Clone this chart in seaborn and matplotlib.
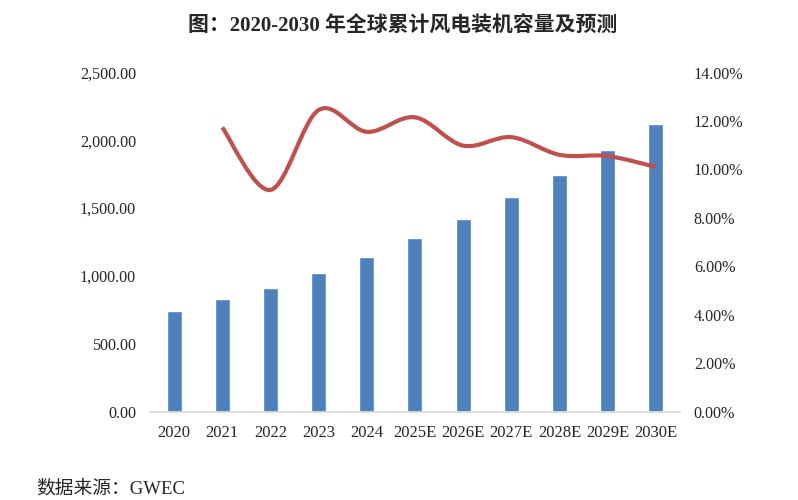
import numpy as np
import pandas as pd
import matplotlib
matplotlib.use("Agg")
import matplotlib.pyplot as plt
import seaborn as sns
from matplotlib.path import Path
from matplotlib.patches import PathPatch
from matplotlib.ticker import FuncFormatter, MultipleLocator


# Data
YEARS = ["2020", "2021", "2022", "2023", "2024", "2025E",
         "2026E", "2027E", "2028E", "2029E", "2030E"]
CAPACITY = [743, 830, 908, 1021, 1139, 1277, 1417, 1579, 1744, 1931, 2123]
GROWTH_YEARS = YEARS[1:]
GROWTH = [11.73, 9.15, 12.45, 11.55, 12.15, 10.98, 11.33, 10.6, 10.55, 10.1]

TITLE = "图：2020-2030 年全球累计风电装机容量及预测"
SOURCE = "数据来源：GWEC"

BAR_COLOR = "#4F81BD"
LINE_COLOR = "#C0504D"
FONTS = ["Liberation Serif", "Noto Sans CJK SC", "DejaVu Sans"]


# Smooth line like an Excel "smoothed line": cubic Bezier segments
# with Catmull-Rom style control points through every data point
def smooth_path(xs, ys):
    pts = np.column_stack([xs, ys]).astype(float)
    n = len(pts)
    verts = [pts[0]]
    codes = [Path.MOVETO]
    for i in range(n - 1):
        p0 = pts[i - 1] if i > 0 else pts[i]
        p1 = pts[i]
        p2 = pts[i + 1]
        p3 = pts[i + 2] if i + 2 < n else pts[i + 1]
        c1 = p1 + (p2 - p0) / 6.0
        c2 = p2 - (p3 - p1) / 6.0
        verts += [c1, c2, p2]
        codes += [Path.CURVE4] * 3
    return Path(verts, codes)


def main():
    sns.set_style("white")
    plt.rcParams["font.family"] = FONTS

    fig = plt.figure(figsize=(7.98, 5.0), dpi=100)
    ax = fig.add_axes([0.188, 0.177, 0.664, 0.678])

    bars = pd.DataFrame({"year": YEARS, "capacity": CAPACITY})
    sns.barplot(data=bars, x="year", y="capacity", color=BAR_COLOR,
                width=0.31, saturation=1, ax=ax)

    ax.set_xlim(-0.5, len(YEARS) - 0.5)
    ax.set_ylim(0, 2500)
    ax.yaxis.set_major_locator(MultipleLocator(500))
    ax.yaxis.set_major_formatter(FuncFormatter(lambda v, _: f"{v:,.2f}"))
    ax.set_xlabel("")
    ax.set_ylabel("")
    ax.tick_params(axis="y", length=0, labelsize=11.6, pad=10)
    ax.tick_params(axis="x", length=0, labelsize=12, pad=10)
    for side in ["left", "right", "top"]:
        ax.spines[side].set_visible(False)
    ax.spines["bottom"].set_color("#d9d9d9")
    ax.spines["bottom"].set_linewidth(1.2)

    # growth rate on the secondary axis
    ax2 = ax.twinx()
    ax2.set_ylim(0, 14)
    ax2.yaxis.set_major_locator(MultipleLocator(2))
    ax2.yaxis.set_major_formatter(FuncFormatter(lambda v, _: f"{v:.2f}%"))
    ax2.tick_params(axis="y", length=0, labelsize=11.6, pad=10)
    for side in ["left", "right", "top", "bottom"]:
        ax2.spines[side].set_visible(False)

    growth_x = [YEARS.index(y) for y in GROWTH_YEARS]
    line = PathPatch(smooth_path(growth_x, GROWTH), facecolor="none",
                     edgecolor=LINE_COLOR, linewidth=3, capstyle="butt")
    ax2.add_patch(line)

    fig.text(0.505, 0.946, TITLE, ha="center", va="center",
             fontsize=15, fontweight="bold", family=FONTS)
    fig.text(0.046, 0.022, SOURCE, ha="left", va="center",
             fontsize=13.5, family=FONTS)

    fig.savefig("out.png", dpi=100)


if __name__ == "__main__":
    main()
